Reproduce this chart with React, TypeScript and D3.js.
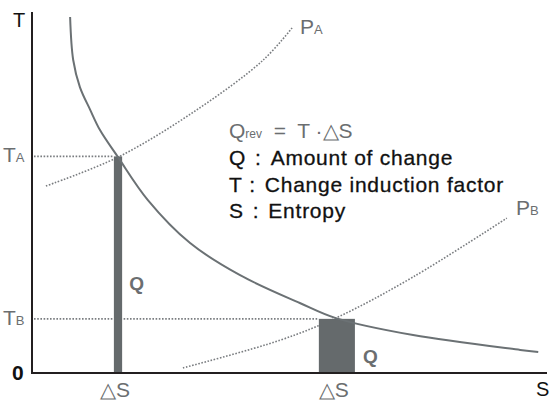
import React, { useEffect, useRef } from 'react';
import * as d3 from 'd3';

// isotherm-like curve T(S)
const curveS = [0.74, 0.8, 0.93, 1.13, 1.32, 1.67, 2.25, 3.07, 4.04, 5.2, 5.9, 7.4, 9.48, 9.83];
const curveT = [9.86, 8.67, 7.92, 7.29, 6.73, 5.98, 4.79, 3.6, 2.71, 1.94, 1.52, 1.05, 0.64, 0.58];

// dotted paths P_A and P_B
const pathAS = [0.27, 1.67, 3.2, 4.49, 5.05];
const pathAT = [5.18, 5.98, 7.29, 8.67, 9.56];
const pathBS = [2.93, 4.82, 5.94, 7.4, 9.22];
const pathBT = [0.14, 0.91, 1.55, 2.66, 4.29];

// the two heat slices Q = T * dS
const barNames = ['A', 'B'];
const barT = [6, 1.5];
const barS0 = [1.59, 5.57];
const barS1 = [1.75, 6.27];

const legendKeys = ['Q', 'T', 'S'];
const legendTexts = ['Amount of change', 'Change induction factor', 'Entropy'];

export default function App() {
  const svgRef = useRef<SVGSVGElement>(null);

  useEffect(() => {
    const width = 551;
    const height = 401;
    const svg = d3.select(svgRef.current);
    svg.selectAll('*').remove();
    svg.attr('width', width).attr('height', height);

    const x = d3.scaleLinear().domain([0, 10]).range([32, 547]);
    const y = d3.scaleLinear().domain([0, 10]).range([373, 12]);
    const font = '"Liberation Sans", Arial, sans-serif';
    const gray = '#6b6e70';
    const dotGray = '#7a7d80';

    const line = d3.line<number[]>()
      .x(d => x(d[0]))
      .y(d => y(d[1]))
      .curve(d3.curveCatmullRom.alpha(0.5));

    // horizontal dotted guides T_A, T_B
    barT.forEach((t, i) => {
      svg.append('line')
        .attr('x1', x(0) + 2).attr('x2', x(barS0[i]))
        .attr('y1', y(t)).attr('y2', y(t))
        .attr('stroke', dotGray).attr('stroke-width', 1.6)
        .attr('stroke-dasharray', '1.6 1.6');
    });

    // dotted P curves
    [[pathAS, pathAT], [pathBS, pathBT]].forEach(([ss, ts]) => {
      svg.append('path')
        .attr('d', line(ss.map((s, i) => [s, ts[i]])))
        .attr('fill', 'none')
        .attr('stroke', dotGray).attr('stroke-width', 1.6)
        .attr('stroke-dasharray', '1.6 1.6');
    });

    // bars
    barT.forEach((t, i) => {
      svg.append('rect')
        .attr('x', x(barS0[i]))
        .attr('y', y(t))
        .attr('width', x(barS1[i]) - x(barS0[i]))
        .attr('height', y(0) - y(t))
        .attr('fill', '#656a6c');
    });

    // main curve
    svg.append('path')
      .attr('d', line(curveS.map((s, i) => [s, curveT[i]])))
      .attr('fill', 'none')
      .attr('stroke', '#6b7174').attr('stroke-width', 2);

    // axes
    svg.append('line')
      .attr('x1', x(0)).attr('x2', x(0)).attr('y1', 12).attr('y2', y(0) + 1)
      .attr('stroke', '#231f20').attr('stroke-width', 2);
    svg.append('line')
      .attr('x1', x(0) - 1).attr('x2', x(10)).attr('y1', y(0)).attr('y2', y(0))
      .attr('stroke', '#231f20').attr('stroke-width', 2);

    const text = (tx: number, ty: number, s: string, size: number, fill: string, anchor = 'start') =>
      svg.append('text')
        .attr('x', tx).attr('y', ty)
        .attr('font-family', font).attr('font-size', size)
        .attr('fill', fill).attr('text-anchor', anchor)
        .text(s);

    text(13, 27, 'T', 20, '#111');
    text(12, 380, '0', 21, '#111').attr('font-weight', 'bold');
    text(536, 396, 'S', 20, '#111');

    // T_A, T_B labels
    barT.forEach((t, i) => {
      const g = svg.append('text')
        .attr('x', 3).attr('y', y(t) + 6)
        .attr('font-family', font).attr('fill', gray);
      g.append('tspan').attr('font-size', 21).text('T');
      g.append('tspan').attr('font-size', 13).text(barNames[i]);
    });

    // delta S labels under bars
    barT.forEach((t, i) => {
      text(x((barS0[i] + barS1[i]) / 2) - 3, 397, '\u25b3S', 21, gray, 'middle');
    });

    // Q labels
    text(x(barS1[0]) + 7, 290, 'Q', 19, gray).attr('font-weight', 'bold');
    text(x(barS1[1]) + 8, 363, 'Q', 19, gray).attr('font-weight', 'bold');

    // P labels
    const pa = svg.append('text').attr('x', 300).attr('y', 34)
      .attr('font-family', font).attr('fill', gray);
    pa.append('tspan').attr('font-size', 21).text('P');
    pa.append('tspan').attr('font-size', 13).text('A');
    const pb = svg.append('text').attr('x', 516).attr('y', 215)
      .attr('font-family', font).attr('fill', gray);
    pb.append('tspan').attr('font-size', 21).text('P');
    pb.append('tspan').attr('font-size', 13).text('B');

    // formula + legend
    const f = svg.append('text').attr('x', 229).attr('y', 138)
      .attr('font-family', font).attr('fill', gray)
      .style('white-space', 'pre');
    f.append('tspan').attr('font-size', 21).text('Q');
    f.append('tspan').attr('font-size', 12).text('rev');
    f.append('tspan').attr('font-size', 21).text('  =  T \u00b7\u25b3S');

    legendKeys.forEach((k, i) => {
      const g = svg.append('text')
        .attr('x', 229).attr('y', 165 + i * 26.5)
        .attr('font-family', font).attr('font-size', 21)
        .attr('fill', '#111').attr('letter-spacing', 0.75)
        .attr('stroke', '#111').attr('stroke-width', 0.3);
      g.append('tspan').text(k);
      g.append('tspan').attr('dx', 9).text(':');
      g.append('tspan').attr('dx', 9).text(legendTexts[i]);
    });
  }, []);

  return (
    <div style={{ position: 'absolute', left: 0, top: 0 }}>
      <svg ref={svgRef}></svg>
    </div>
  );
}
